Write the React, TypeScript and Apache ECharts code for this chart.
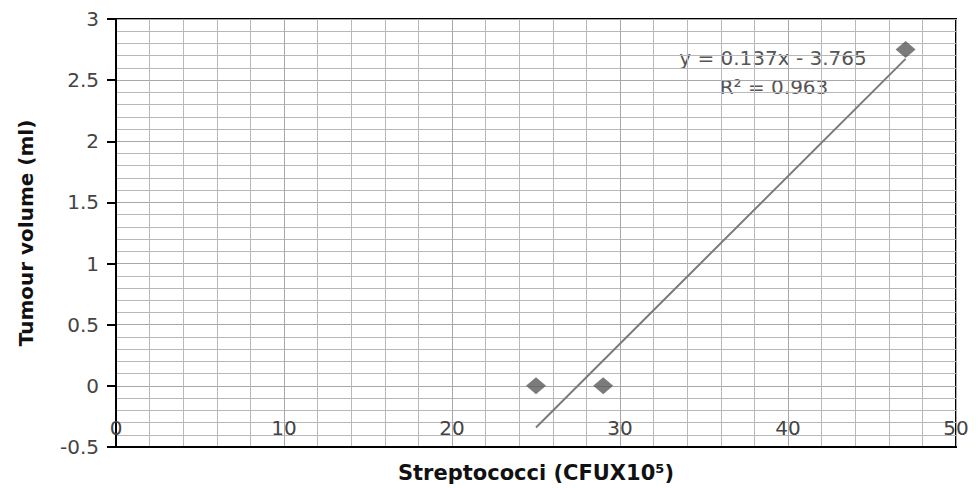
import React, { useEffect, useRef } from "react";
import * as echarts from "echarts";

const xValues = [25, 29, 47];
const yValues = [0, 0, 2.75];
const trendSlope = 0.137;
const trendIntercept = -3.765;
const trendRange = [25, 47];
const equationText = "y = 0.137x - 3.765";
const r2Text = "R² = 0.963";
const xTitle = "Streptococci (CFUX10⁵)";
const yTitle = "Tumour volume (ml)";

export default function App() {
  const ref = useRef<HTMLDivElement>(null);
  useEffect(() => {
    if (!ref.current) return;
    const chart = echarts.init(ref.current, undefined, { renderer: "svg" });
    const points = xValues.map((x, i) => [x, yValues[i]]);
    const trend = trendRange.map((x) => [x, trendSlope * x + trendIntercept]);
    const font = "'DejaVu Sans', Verdana, sans-serif";
    chart.setOption({
      animation: false,
      backgroundColor: "#ffffff",
      grid: {
        left: 116,
        top: 19,
        right: 23,
        bottom: 40,
        show: true,
        borderColor: "#000",
        borderWidth: 2,
        backgroundColor: "transparent",
      },
      xAxis: {
        type: "value",
        min: 0,
        max: 50,
        interval: 10,
        name: xTitle,
        nameLocation: "middle",
        nameGap: 15,
        nameTextStyle: { fontFamily: font, fontWeight: "bold", fontSize: 21, color: "#111" },
        axisLine: { show: true, onZero: false, lineStyle: { color: "#000", width: 2 } },
        axisTick: { show: false },
        axisLabel: { inside: true, margin: 9, fontFamily: font, fontSize: 20, color: "#444" },
        splitLine: { show: true, lineStyle: { color: "#a8a8a8", width: 1 } },
        minorTick: { show: false, splitNumber: 5 },
        minorSplitLine: { show: true, lineStyle: { color: "#b8b8b8", width: 1 } },
      },
      yAxis: {
        type: "value",
        min: -0.5,
        max: 3,
        interval: 0.5,
        name: yTitle,
        nameLocation: "middle",
        nameGap: 80,
        nameTextStyle: { fontFamily: font, fontWeight: "bold", fontSize: 20, color: "#111" },
        axisLine: { show: true, onZero: false, lineStyle: { color: "#000", width: 2 } },
        axisTick: { show: true, inside: false, length: 9, lineStyle: { color: "#000", width: 2 } },
        axisLabel: { margin: 17, fontFamily: font, fontSize: 20, color: "#444" },
        splitLine: { show: true, lineStyle: { color: "#a8a8a8", width: 1 } },
        minorTick: { show: false, splitNumber: 5 },
        minorSplitLine: { show: true, lineStyle: { color: "#b8b8b8", width: 1 } },
      },
      series: [
        {
          type: "line",
          data: trend,
          symbol: "none",
          lineStyle: { color: "#7a7a7a", width: 2 },
          z: 3,
        },
        {
          type: "scatter",
          data: points,
          symbol: "diamond",
          symbolSize: [20, 17],
          itemStyle: { color: "#5a5a5a" },
          z: 4,
        },
      ],
      graphic: [
        {
          type: "text",
          x: 773,
          y: 58,
          style: {
            text: equationText,
            fontFamily: font,
            fontSize: 20,
            fill: "#555",
            align: "center",
            verticalAlign: "middle",
          },
        },
        {
          type: "text",
          x: 774,
          y: 87,
          style: {
            text: r2Text,
            fontFamily: font,
            fontSize: 20,
            fill: "#555",
            align: "center",
            verticalAlign: "middle",
          },
        },
      ],
    });
    return () => chart.dispose();
  }, []);
  return (
    <div
      ref={ref}
      style={{ position: "absolute", left: 0, top: 0, width: 979, height: 488 }}
    />
  );
}
